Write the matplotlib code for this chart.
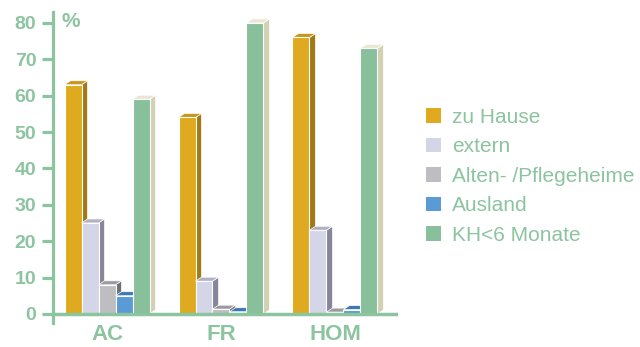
import numpy as np
import matplotlib.pyplot as plt
from matplotlib.patches import Polygon

# Daten
gruppen = ['AC', 'FR', 'HOM']
serien = ['zu Hause', 'extern', 'Alten- /Pflegeheime', 'Ausland', 'KH<6 Monate']
werte = [
    [63, 54, 76],      # zu Hause
    [25, 9, 23],       # extern
    [8, 1.3, 0.5],     # Alten- /Pflegeheime
    [5, 0.6, 1.2],     # Ausland
    [59, 80, 73],      # KH<6 Monate
]
y_ticks = [0, 10, 20, 30, 40, 50, 60, 70, 80]

# Farben: Front, Seite, Deckel
front = ['#E0AA20', '#D5D5E8', '#BEBEC2', '#5A9AD5', '#88C09C']
seite = ['#A07A18', '#85859C', '#6E6E76', '#3A6FA5', '#D2D2B2']
deckel = ['#C8961A', '#B0B0C8', '#9A9AA0', '#3F78B0', '#E8E8D2']
gruen = '#8CC4A0'

plt.rcParams['font.family'] = ['Liberation Sans', 'DejaVu Sans']

fig = plt.figure(figsize=(6.4, 3.47), dpi=100)
ax = fig.add_axes([53 / 640, 24 / 347, 345 / 640, 311 / 347])

breite = 17 / 114
dx = 6 / 114
dy = 1.1
x = np.arange(len(gruppen))
start = x - 2.5 * breite

for i, name in enumerate(serien):
    pos = start + i * breite
    bars = ax.bar(pos, werte[i], width=breite, align='edge', color=front[i],
                  edgecolor='white', linewidth=0.8, label=name, zorder=3 + 2 * i)
    for xp, h in zip(pos, werte[i]):
        s = Polygon([(xp + breite, 0), (xp + breite + dx, dy), (xp + breite + dx, h + dy), (xp + breite, h)],
                    closed=True, facecolor=seite[i], edgecolor='white', linewidth=0.5, zorder=2 + 2 * i)
        t = Polygon([(xp, h), (xp + dx, h + dy), (xp + breite + dx, h + dy), (xp + breite, h)],
                    closed=True, facecolor=deckel[i], edgecolor='white', linewidth=0.5, zorder=2 + 2 * i)
        ax.add_patch(s)
        ax.add_patch(t)

ax.set_xlim(-0.474, 2.553)
ax.set_ylim(-2.5, 83)
ax.axhline(0, color=gruen, lw=2.5, zorder=20)

for sp in ['top', 'right', 'bottom']:
    ax.spines[sp].set_visible(False)
ax.spines['left'].set_color(gruen)
ax.spines['left'].set_linewidth(2.3)

ax.set_yticks(y_ticks)
ax.set_yticklabels([str(v) for v in y_ticks], fontsize=14, fontweight='bold', color=gruen)
ax.tick_params(axis='y', length=8, width=2.3, color=gruen, pad=4)
ax.set_xticks(x)
ax.set_xticklabels(gruppen, fontsize=16, fontweight='bold', color=gruen)
ax.tick_params(axis='x', length=0, pad=1)

ax.text(0.025, 80.5, '%', fontsize=15, fontweight='bold', color=gruen,
        transform=ax.get_yaxis_transform(), va='center', ha='left')

leg = fig.legend(loc='center left', bbox_to_anchor=(426 / 640, 0.492), frameon=False,
                 fontsize=15, labelcolor=gruen, handlelength=0.7, handleheight=0.7,
                 handletextpad=0.55, labelspacing=0.5, borderpad=0, borderaxespad=0)
for h in leg.legend_handles:
    h.set_edgecolor('none')

fig.savefig('out.png', dpi=100)
